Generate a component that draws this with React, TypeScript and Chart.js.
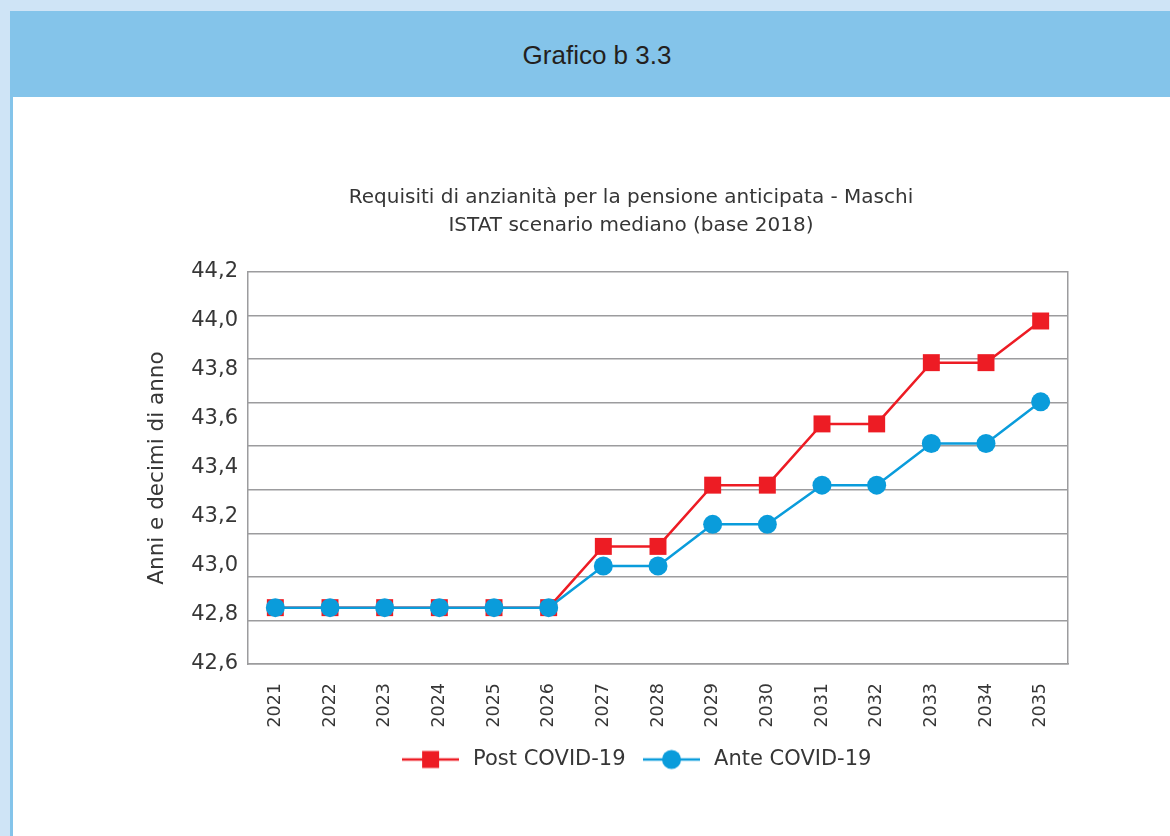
import React, { useEffect, useRef } from "react";
import { Chart, registerables } from "chart.js";

Chart.register(...registerables);

const years = ["2021", "2022", "2023", "2024", "2025", "2026", "2027", "2028", "2029", "2030", "2031", "2032", "2033", "2034", "2035"];
const postCovid = [42.83, 42.83, 42.83, 42.83, 42.83, 42.83, 43.08, 43.08, 43.33, 43.33, 43.58, 43.58, 43.83, 43.83, 44.0];
const anteCovid = [42.83, 42.83, 42.83, 42.83, 42.83, 42.83, 43.0, 43.0, 43.17, 43.17, 43.33, 43.33, 43.5, 43.5, 43.67];
const yTickValues = [42.6, 42.8, 43.0, 43.2, 43.4, 43.6, 43.8, 44.0, 44.2];
const gridLineSteps = [0, 1, 2, 3, 4, 5, 6, 7, 8, 9];

const seriesNames = ["Post COVID-19", "Ante COVID-19"];
const chartTitle = ["Requisiti di anzianità per la pensione anticipata - Maschi", "ISTAT scenario mediano (base 2018)"];
const yAxisTitle = "Anni e decimi di anno";
const headerTitle = "Grafico b 3.3";

const RED = "#ED1C24";
const BLUE = "#0A9CDB";
const GRID = "#9C9C9E";
const TEXT = "#363636";
const FONT = "'DejaVu Sans', 'Liberation Sans', Arial, sans-serif";
const HEADER_FONT = "'Liberation Sans', Arial, Helvetica, sans-serif";

function legendIcon(color: string, kind: "rect" | "circle") {
  const c = document.createElement("canvas");
  c.width = 57;
  c.height = 22;
  const ctx = c.getContext("2d")!;
  ctx.strokeStyle = color;
  ctx.lineWidth = 2.5;
  ctx.beginPath();
  ctx.moveTo(0, 11);
  ctx.lineTo(57, 11);
  ctx.stroke();
  ctx.fillStyle = color;
  if (kind === "rect") {
    ctx.fillRect(28.5 - 8.5, 11 - 8.5, 17, 17);
  } else {
    ctx.beginPath();
    ctx.arc(28.5, 11, 9.5, 0, Math.PI * 2);
    ctx.fill();
  }
  return c;
}

const legendShift = {
  id: "legendShift",
  afterLayout(chart: any) {
    const l = chart.legend;
    if (l) {
      l.left += 4;
      l.right += 4;
    }
  },
};

export default function App() {
  const ref = useRef<HTMLCanvasElement | null>(null);

  useEffect(() => {
    if (!ref.current) return;
    const chart = new Chart(ref.current, {
      type: "line",
      data: {
        labels: years,
        datasets: [
          {
            label: seriesNames[0],
            data: postCovid,
            borderColor: RED,
            backgroundColor: RED,
            borderWidth: 2.5,
            pointStyle: "rect",
            pointRadius: 12,
            pointBorderWidth: 0,
            tension: 0,
            order: 2,
          },
          {
            label: seriesNames[1],
            data: anteCovid,
            borderColor: BLUE,
            backgroundColor: BLUE,
            borderWidth: 2.5,
            pointStyle: "circle",
            pointRadius: 9.5,
            pointBorderWidth: 0,
            tension: 0,
            order: 1,
          },
        ],
      },
      plugins: [legendShift],
      options: {
        responsive: false,
        animation: false,
        layout: { padding: { left: 0, right: 0, top: 0, bottom: 20 } },
        plugins: {
          tooltip: { enabled: false },
          title: {
            display: true,
            text: chartTitle,
            color: TEXT,
            font: { family: FONT, size: 20, weight: "normal", lineHeight: 1.4 },
            padding: { top: 4, bottom: 32 },
          },
          legend: {
            position: "bottom",
            labels: {
              usePointStyle: true,
              pointStyleWidth: 64,
              padding: 14,
              color: TEXT,
              font: { family: FONT, size: 21 },
              generateLabels: () => [
                {
                  text: seriesNames[0],
                  pointStyle: legendIcon(RED, "rect"),
                  fillStyle: RED,
                  strokeStyle: RED,
                  lineWidth: 0,
                  hidden: false,
                  datasetIndex: 0,
                  fontColor: TEXT,
                } as any,
                {
                  text: seriesNames[1],
                  pointStyle: legendIcon(BLUE, "circle"),
                  fillStyle: BLUE,
                  strokeStyle: BLUE,
                  lineWidth: 0,
                  hidden: false,
                  datasetIndex: 1,
                  fontColor: TEXT,
                } as any,
              ],
            },
          },
        },
        scales: {
          x: {
            type: "category",
            offset: true,
            grid: { display: false, drawTicks: false },
            border: { display: true, color: GRID, width: 1.5 },
            afterFit: (scale: any) => {
              scale.height = 71;
            },
            ticks: {
              color: TEXT,
              font: { family: FONT, size: 17.5 },
              minRotation: 90,
              maxRotation: 90,
              padding: 19,
            },
          },
          y: {
            type: "linear",
            position: "left",
            min: 42.6,
            max: 44.2,
            grid: { display: false, drawTicks: false },
            border: { display: true, color: GRID, width: 1.5 },
            afterBuildTicks: (scale: any) => {
              scale.ticks = yTickValues.map((v) => ({ value: v }));
            },
            afterFit: (scale: any) => {
              scale.width = 107;
            },
            ticks: {
              color: TEXT,
              padding: 10,
              font: { family: FONT, size: 21 },
              callback: (v: any) => Number(v).toFixed(1).replace(".", ","),
            },
            title: {
              display: true,
              text: yAxisTitle,
              color: TEXT,
              font: { family: FONT, size: 21.5 },
              padding: { top: 4, bottom: 4 },
            },
          },
          y2: {
            type: "linear",
            position: "right",
            min: 0,
            max: 9,
            afterBuildTicks: (scale: any) => {
              scale.ticks = gridLineSteps.map((v) => ({ value: v }));
            },
            afterFit: (scale: any) => {
              scale.width = 53;
            },
            grid: { display: true, color: GRID, lineWidth: 1.5, drawTicks: false },
            border: { display: true, color: GRID, width: 1.5 },
            ticks: { display: false },
          },
        },
      },
    });
    return () => chart.destroy();
  }, []);

  return (
    <div style={{ position: "absolute", left: 0, top: 0, width: 1170, height: 836, background: "#CFE4F6", overflow: "hidden" }}>
      <div style={{ position: "absolute", left: 10, top: 11, width: 1170, height: 86, background: "#84C4EA" }} />
      <div
        style={{
          position: "absolute",
          left: 447,
          top: 39,
          width: 300,
          textAlign: "center",
          fontFamily: HEADER_FONT,
          fontSize: 26,
          lineHeight: "32px",
          color: "#231F20",
        }}
      >
        {headerTitle}
      </div>
      <div
        style={{
          position: "absolute",
          left: 10,
          top: 97,
          width: 1170,
          height: 760,
          background: "#FFFFFF",
          borderLeft: "3px solid #84C4EA",
          boxSizing: "border-box",
        }}
      />
      <canvas
        ref={ref}
        width={980}
        height={620}
        style={{ position: "absolute", left: 141, top: 180, width: 980, height: 620 }}
      />
    </div>
  );
}
